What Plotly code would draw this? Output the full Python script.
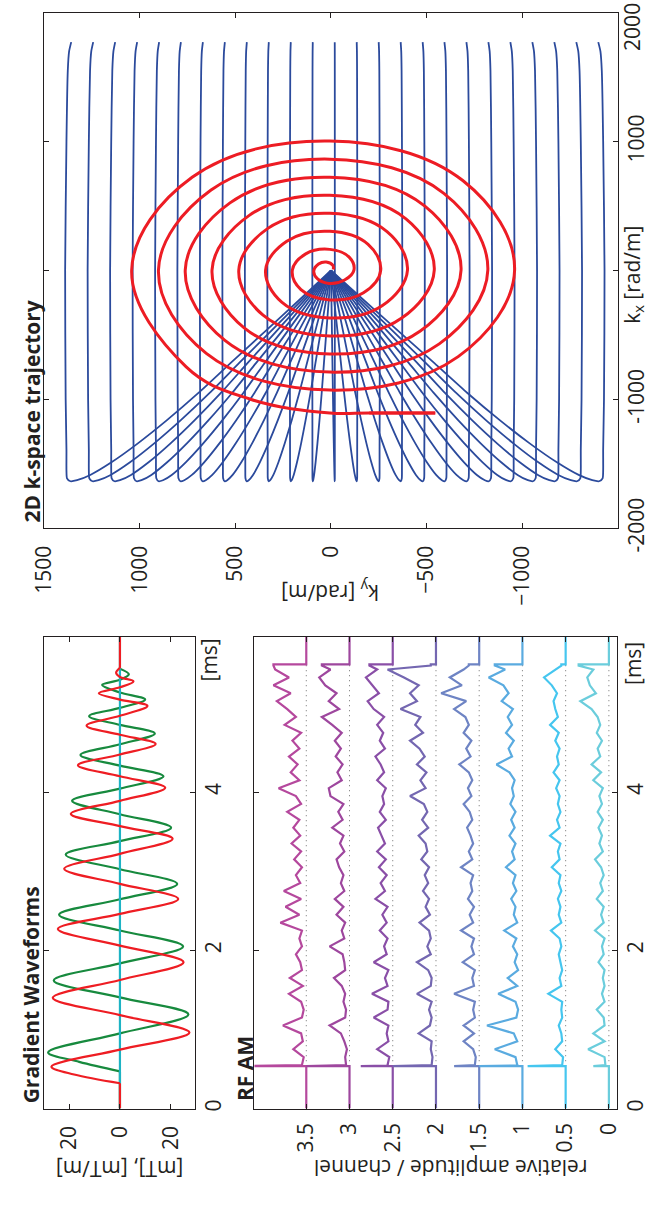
import plotly.graph_objects as go

W, H = 651, 1208
def px(x): return x / W
def py(y): return 1 - y / H

# ---------------- Gradient waveforms (time [ms], amplitude [mT/m]) ----------------
grad_red_t = [0.32, 0.43, 0.53, 0.745, 0.96, 1.18, 1.40, 1.625, 1.85, 2.06, 2.27, 2.46, 2.65, 2.84,
              3.03, 3.22, 3.41, 3.57, 3.725, 3.89, 4.055, 4.2, 4.34, 4.475, 4.61, 4.725, 4.84,
              4.965, 5.09, 5.17, 5.25, 5.325, 5.40, 5.455, 5.51, 5.57]
grad_red_g = [0, 18, 26.9, 0, -27.3, 0, 26.4, 0, -25.0, 0, 24.4, 0, -22.9, 0,
              21.9, 0, -20.7, 0, 19.3, 0, -17.8, 0, 16.5, 0, -14.0, 0, 13.1,
              0, -10.8, 0, 8.3, 0, -5.3, 0, 1.5, 0]
grad_green_t = [0.47, 0.59, 0.71, 0.95, 1.19, 1.405, 1.62, 1.835, 2.05, 2.25, 2.45, 2.645, 2.84,
                3.025, 3.21, 3.38, 3.55, 3.72, 3.89, 4.045, 4.2, 4.335, 4.47, 4.605, 4.74, 4.85,
                4.96, 5.065, 5.17, 5.26, 5.355, 5.42, 5.49, 5.56]
grad_green_g = [0, 16, 28.2, 0, -26.9, 0, 26.0, 0, -24.8, 0, 23.9, 0, -22.5,
                0, 21.3, 0, -20.1, 0, 18.8, 0, -17.1, 0, 15.5, 0, -13.7, 0,
                12.1, 0, -9.9, 0, 7.0, 0, -3.5, 0]
t_end = 5.96
grad_ticks = [20, 0, -20]
grad_ticktext = ["20", "0", "20"]

# ---------------- RF amplitude per channel ----------------
rf_t = [0.55, 0.65, 0.75, 0.85, 0.95, 1.05, 1.15, 1.25, 1.35, 1.45, 1.55, 1.65, 1.75, 1.85, 1.95,
        2.05, 2.15, 2.25, 2.35, 2.45, 2.55, 2.65, 2.75, 2.85, 2.95, 3.05, 3.15, 3.25, 3.35, 3.45,
        3.55, 3.65, 3.75, 3.85, 3.95, 4.05, 4.15, 4.25, 4.35, 4.45, 4.55, 4.65, 4.75, 4.85, 4.95,
        5.05, 5.15, 5.25, 5.35, 5.45, 5.55]
rf_on, rf_off = 0.535, 5.615
rf_offsets = [3.5, 3.0, 2.5, 2.0, 1.5, 1.0, 0.5, 0.0]
rf_colors = ["#B5489D", "#9E479E", "#8A4FA7", "#7467B1", "#6E84C4", "#5AABE0", "#45C6EF", "#6BCDDC"]
rf_spike = [0.80, 0.50, 0.37, 0.50, 0.29, 0.50, 0.44, 0.18]
rf_last = [0.38, 0.32, 0.27, 0.06, 0.12, 0.32, 0.05, 0.35]
rf_ch35 = [0.05, 0.03, 0.15, 0.04, 0.06, 0.27, 0.05, 0.03, 0.06, 0.20, 0.04, 0.19, 0.05, 0.07, 0.12,
           0.05, 0.08, 0.05, 0.30, 0.08, 0.24, 0.06, 0.26, 0.07, 0.12, 0.05, 0.14, 0.06, 0.17, 0.07,
           0.15, 0.08, 0.22, 0.06, 0.12, 0.32, 0.08, 0.18, 0.10, 0.20, 0.08, 0.16, 0.06, 0.25, 0.12,
           0.22, 0.34, 0.18, 0.38, 0.20, 0.36]
rf_ch30 = [0.04, 0.05, 0.03, 0.06, 0.10, 0.23, 0.05, 0.04, 0.07, 0.05, 0.09, 0.18, 0.05, 0.06, 0.08,
           0.23, 0.06, 0.09, 0.05, 0.15, 0.07, 0.17, 0.06, 0.10, 0.07, 0.12, 0.15, 0.06, 0.11, 0.07,
           0.20, 0.08, 0.13, 0.07, 0.22, 0.24, 0.09, 0.14, 0.08, 0.16, 0.10, 0.17, 0.09, 0.20, 0.32,
           0.12, 0.24, 0.15, 0.28, 0.35, 0.22]
rf_ch25 = [0.06, 0.04, 0.18, 0.05, 0.07, 0.05, 0.22, 0.06, 0.05, 0.24, 0.06, 0.09, 0.05, 0.22, 0.07,
           0.10, 0.06, 0.15, 0.07, 0.12, 0.06, 0.20, 0.09, 0.14, 0.07, 0.16, 0.08, 0.18, 0.09, 0.13,
           0.17, 0.08, 0.15, 0.10, 0.12, 0.08, 0.18, 0.10, 0.14, 0.20, 0.09, 0.15, 0.11, 0.18, 0.10,
           0.22, 0.29, 0.16, 0.24, 0.31, 0.18]
rf_ch20 = [0.05, 0.04, 0.06, 0.05, 0.20, 0.07, 0.05, 0.08, 0.05, 0.22, 0.06, 0.05, 0.09, 0.22, 0.06,
           0.10, 0.06, 0.08, 0.19, 0.07, 0.12, 0.08, 0.15, 0.09, 0.13, 0.08, 0.17, 0.10, 0.12, 0.20,
           0.09, 0.16, 0.10, 0.14, 0.30, 0.12, 0.18, 0.11, 0.22, 0.13, 0.19, 0.30, 0.15, 0.24, 0.18,
           0.41, 0.22, 0.30, 0.20, 0.37, 0.56]
rf_ch15 = [0.05, 0.04, 0.07, 0.18, 0.06, 0.18, 0.05, 0.07, 0.05, 0.29, 0.06, 0.08, 0.05, 0.19, 0.06,
           0.09, 0.06, 0.21, 0.07, 0.11, 0.06, 0.13, 0.08, 0.10, 0.07, 0.21, 0.08, 0.12, 0.07, 0.10,
           0.14, 0.08, 0.11, 0.18, 0.09, 0.13, 0.08, 0.12, 0.23, 0.10, 0.15, 0.09, 0.18, 0.12, 0.16,
           0.29, 0.15, 0.44, 0.20, 0.34, 0.18]
rf_ch10 = [0.06, 0.08, 0.32, 0.06, 0.10, 0.41, 0.07, 0.05, 0.08, 0.28, 0.06, 0.17, 0.05, 0.09, 0.06,
           0.11, 0.07, 0.21, 0.06, 0.10, 0.08, 0.13, 0.07, 0.11, 0.08, 0.19, 0.09, 0.12, 0.08, 0.15,
           0.09, 0.13, 0.08, 0.14, 0.10, 0.12, 0.09, 0.15, 0.30, 0.12, 0.16, 0.10, 0.19, 0.12, 0.17,
           0.11, 0.24, 0.16, 0.22, 0.39, 0.20]
rf_ch05 = [0.04, 0.03, 0.12, 0.04, 0.05, 0.08, 0.04, 0.05, 0.04, 0.20, 0.05, 0.07, 0.04, 0.06, 0.08,
           0.05, 0.07, 0.17, 0.05, 0.08, 0.06, 0.09, 0.05, 0.08, 0.06, 0.16, 0.07, 0.09, 0.06, 0.18,
           0.07, 0.10, 0.06, 0.09, 0.07, 0.11, 0.07, 0.14, 0.08, 0.10, 0.07, 0.12, 0.08, 0.18, 0.09,
           0.12, 0.14, 0.10, 0.16, 0.25, 0.12]
rf_ch00 = [0.04, 0.05, 0.24, 0.05, 0.18, 0.05, 0.06, 0.14, 0.05, 0.08, 0.05, 0.07, 0.05, 0.12, 0.06,
           0.08, 0.05, 0.16, 0.06, 0.09, 0.06, 0.14, 0.07, 0.10, 0.06, 0.09, 0.16, 0.07, 0.11, 0.08,
           0.12, 0.07, 0.13, 0.08, 0.11, 0.07, 0.18, 0.09, 0.20, 0.10, 0.13, 0.08, 0.14, 0.10, 0.13,
           0.20, 0.33, 0.15, 0.22, 0.25, 0.18]
rf_channels = [rf_ch35, rf_ch30, rf_ch25, rf_ch20, rf_ch15, rf_ch10, rf_ch05, rf_ch00]
rf_ticks = [0, 0.5, 1, 1.5, 2, 2.5, 3, 3.5]
rf_ticktext = ["0", "0.5", "1", "1.5", "2", "2.5", "3", "3.5"]

# ---------------- 2D k-space trajectory [rad/m] ----------------
ky_lines = [1383, 1266, 1149, 1032, 915, 799, 682, 565, 448, 331, 214, 97, -20,
            -137, -254, -371, -488, -604, -721, -838, -955, -1072, -1189, -1306, -1423]
# shared path profile: kx along the path and fraction of each line's ky reached
path_kx = [0, -229, -474, -719, -948, -1161, -1341, -1488, -1586, -1627, -1635, -1612,
           -1553, -1390, -1000, 0, 1000, 1550, 1700, 1772]
path_kyfrac = [0, 0.12, 0.25, 0.38, 0.50, 0.62, 0.73, 0.83, 0.91, 0.96, 0.985, 0.998,
               1.0, 1.0, 1.003, 1.005, 1.0, 0.995, 0.99, 0.982]
lead_ky = [-545, -200]
lead_kx = [-1105, -1105]
spiral_ky = [-545, -200, 6, 421, 757, 1042, 726, 6, -689, -960, -665, 6, 652, 902, 627, 6, -590, -820, -566,
             6, 553, 762, 528, 6, -491, -680, -467, 6, 454, 622, 429, 6, -392, -540, -368,
             6, 355, 482, 330, 6, -293, -400, -269, 6, 256, 342, 231, 6, -194, -260, -170,
             6, 157, 202, 132, 6, -95, -120, -71, 10, 70, 90, 65, 25, -10, -12]
spiral_kx = [-1105, -1105, -1105, -999, -748, 3, 723, 1004, 698, 3, -668, -928, -643, 3, 624, 864, 599, 3, -569,
             -788, -544, 3, 525, 724, 500, 3, -470, -648, -445, 3, 426, 584, 401, 3, -371,
             -508, -346, 3, 327, 444, 302, 3, -272, -368, -247, 3, 228, 304, 203, 3, -173,
             -228, -148, 3, 129, 164, 104, 3, -74, -100, -65, -5, 50, 66, 40, 8]
ky_ticks = [1500, 1000, 500, 0, -500, -1000]
ky_ticktext = ["1500", "1000", "500", "0", "\u2212500", "\u22121000"]
kx_ticks = [-2000, -1000, 1000]
kx_ticktext = ["-2000", "-1000", "1000"]

FONT = "Open Sans"
FS = 21
INK = "#231F20"

fig = go.Figure()

# Gradient panel (xaxis = amplitude, yaxis = time)
fig.add_trace(go.Scatter(x=[0, 0], y=[0, grad_green_t[0]], xaxis="x", yaxis="y", mode="lines",
                         line=dict(color="#178A3E", width=2.2)))
fig.add_trace(go.Scatter(x=grad_green_g, y=grad_green_t, xaxis="x", yaxis="y", mode="lines",
                         line=dict(color="#178A3E", width=2.2, shape="spline", smoothing=1.0)))
fig.add_trace(go.Scatter(x=[0, 0], y=[0, t_end], xaxis="x", yaxis="y", mode="lines",
                         line=dict(color="#1DB3C4", width=2.2)))
fig.add_trace(go.Scatter(x=grad_red_g, y=grad_red_t, xaxis="x", yaxis="y", mode="lines",
                         line=dict(color="#EE1D23", width=2.2, shape="spline", smoothing=1.0)))
fig.add_trace(go.Scatter(x=[0, 0], y=[0, grad_red_t[0]], xaxis="x", yaxis="y", mode="lines",
                         line=dict(color="#EE1D23", width=2.2)))
fig.add_trace(go.Scatter(x=[0, 0], y=[grad_red_t[-1], t_end], xaxis="x", yaxis="y", mode="lines",
                         line=dict(color="#EE1D23", width=2.2)))

# RF panel
for off, ch, col, sp, last in zip(rf_offsets, rf_channels, rf_colors, rf_spike, rf_last):
    fig.add_trace(go.Scatter(x=[off, off], y=[rf_on, rf_off], xaxis="x2", yaxis="y2", mode="lines",
                             line=dict(color="#707070", width=1, dash="1px,4px")))
    tt = [0, rf_on, rf_on + 0.002, rf_on + 0.008] + rf_t + [5.60, rf_off, rf_off, t_end]
    vv = [0, 0, sp, 0.05] + ch + [last, last, 0, 0]
    fig.add_trace(go.Scatter(x=[off + v for v in vv], y=tt, xaxis="x2", yaxis="y2", mode="lines",
                             line=dict(color=col, width=2.2)))

# k-space panel (xaxis = ky reversed, yaxis = kx)
bx, by = [], []
for ky in ky_lines:
    bx += [ky * f for f in path_kyfrac] + [None]
    by += path_kx + [None]
fig.add_trace(go.Scatter(x=bx, y=by, xaxis="x3", yaxis="y3", mode="lines",
                         line=dict(color="#2B4A9C", width=1.8, shape="spline", smoothing=0.6)))
fig.add_trace(go.Scatter(x=lead_ky, y=lead_kx, xaxis="x3", yaxis="y3", mode="lines",
                         line=dict(color="#ED1C24", width=3)))
fig.add_trace(go.Scatter(x=spiral_ky, y=spiral_kx, xaxis="x3", yaxis="y3", mode="lines",
                         line=dict(color="#ED1C24", width=3, shape="spline", smoothing=1.1)))

axis_common = dict(showgrid=False, zeroline=False, showline=True, linecolor=INK, linewidth=1,
                   mirror="ticks", ticks="inside", ticklen=5, tickcolor=INK, tickwidth=1,
                   tickangle=-90, tickfont=dict(family=FONT, size=FS, color=INK))

fig.update_layout(
    width=W, height=H, margin=dict(l=0, r=0, t=0, b=0),
    paper_bgcolor="white", plot_bgcolor="white", showlegend=False,
    xaxis=dict(domain=[px(30), px(186)], range=[29.8, -29.6], anchor="y",
               tickmode="array", tickvals=grad_ticks, ticktext=grad_ticktext,
               side="bottom", ticklabelstandoff=8, **axis_common),
    yaxis=dict(domain=[py(1131), py(650)], range=[0, t_end], anchor="x", side="right",
               tickmode="array", tickvals=[0, 2, 4], ticktext=["0", "2", "4"], **axis_common),
    xaxis2=dict(domain=[px(247), px(621)], range=[4.10, -0.093], anchor="y2",
                tickmode="array", tickvals=rf_ticks, ticktext=rf_ticktext,
                side="bottom", ticklabelstandoff=5, **axis_common),
    yaxis2=dict(domain=[py(1131), py(650)], range=[0, t_end], anchor="x2", side="right",
                tickmode="array", tickvals=[0, 2, 4], ticktext=["0", "2", "4"], **axis_common),
    xaxis3=dict(domain=[px(30), px(622)], range=[1500, -1500], anchor="y3",
                tickmode="array", tickvals=ky_ticks, ticktext=ky_ticktext,
                side="bottom", ticklabelstandoff=8, **axis_common),
    yaxis3=dict(domain=[py(539), py(13)], range=[-2000, 2000], anchor="x3", side="right",
                tickmode="array", tickvals=kx_ticks, ticktext=kx_ticktext,
                minor=dict(tickmode="array", tickvals=[0], ticks="inside", ticklen=5,
                           tickcolor=INK, tickwidth=1),
                **axis_common),
)

def ann(text, x, y, angle, size=FS, bold=False):
    t = f"<b>{text}</b>" if bold else text
    fig.add_annotation(text=t, x=px(x), y=py(y), xref="paper", yref="paper",
                       xanchor="center", yanchor="middle", textangle=angle, showarrow=False,
                       font=dict(family=FONT, size=size, color=INK))

ann("Gradient Waveforms", 16, 1015, -90, 21, True)
ann("RF AM", 238, 1090, -90, 21, True)
ann("2D k-space trajectory", 17.5, 420, -90, 21, True)
ann("[ms]", 200, 673, -90)
ann("[ms]", 637, 677, -90)
ann("[mT], [mT/m]", 108, 1192, 180)
ann("relative amplitude / channel", 449, 1191, 180)
ann("k<sub>y</sub> [rad/m]", 325, 604, 180)
ann("k<sub>x</sub> [rad/m]", 638, 280, -90)
ann("2000", 637, 27, -90)

fig.write_html("out.html")
